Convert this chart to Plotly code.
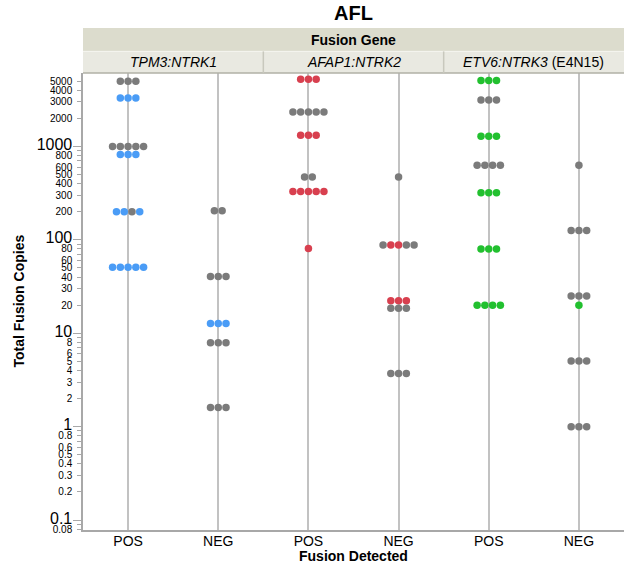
import plotly.graph_objects as go

# ---------------- data ----------------
panels = ["<i>TPM3:NTRK1</i>", "<i>AFAP1:NTRK2</i>", "<i>ETV6:NTRK3</i> (E4N15)"]
detected = ["POS", "NEG"]

# each row: value, colour codes of its dots (G gray, B blue, R red, E green)
tpm3_pos_values = [5000, 3300, 1000, 820, 200, 51]
tpm3_pos_colors = ["GGG", "BBB", "GGGGG", "BBB", "BBGB", "BBBBB"]
tpm3_neg_values = [205, 40.5, 12.7, 7.9, 1.6]
tpm3_neg_colors = ["GG", "GGG", "BBB", "GGG", "GGG"]

afap1_pos_values = [5250, 2340, 1320, 470, 330, 81]
afap1_pos_colors = ["RRR", "GGGGG", "RRR", "GG", "RRRRR", "R"]
afap1_neg_values = [470, 88, 22.3, 18.5, 3.7]
afap1_neg_colors = ["G", "GRRGG", "RRR", "GGG", "GGG"]

etv6_pos_values = [5100, 3150, 1290, 630, 320, 80, 20]
etv6_pos_colors = ["EEE", "GGG", "EEE", "GGGG", "EEE", "EEE", "EEEE"]
etv6_neg_values = [630, 126, 25, 20, 5.05, 1.0]
etv6_neg_colors = ["G", "GGG", "GGG", "E", "GGG", "GGG"]

groups = [
    (tpm3_pos_values, tpm3_pos_colors),
    (tpm3_neg_values, tpm3_neg_colors),
    (afap1_pos_values, afap1_pos_colors),
    (afap1_neg_values, afap1_neg_colors),
    (etv6_pos_values, etv6_pos_colors),
    (etv6_neg_values, etv6_neg_colors),
]

labeled_ticks = [0.08, 0.1, 0.2, 0.3, 0.4, 0.5, 0.6, 0.8, 1, 2, 3, 4, 5, 6, 8,
                 10, 20, 30, 40, 50, 60, 80, 100, 200, 300, 400, 500, 600, 800,
                 1000, 2000, 3000, 4000, 5000]
unlabeled_ticks = [0.09, 0.7, 0.9, 7, 9, 70, 90, 700, 900]
decade_ticks = [0.1, 1, 10, 100, 1000]

palette = {"G": "#7b7b7b", "B": "#4a9cf6", "R": "#d8404f", "E": "#22c02f"}

# ---------------- build ----------------
FONT = "Arial, Liberation Sans, sans-serif"
spacing = 0.086
y_range = [-1.107, 3.787]

fig = go.Figure()
cat_pos = [i + 0.5 for i in range(len(groups))]
for gi, (vals, cols) in enumerate(groups):
    center = cat_pos[gi]
    for v, code in zip(vals, cols):
        n = len(code)
        for k, c in enumerate(code):
            fig.add_trace(go.Scatter(
                x=[center + (k - (n - 1) / 2) * spacing], y=[v],
                mode="markers",
                marker=dict(size=7.5, color=palette[c], line=dict(width=0)),
                showlegend=False, hoverinfo="skip"))

# dummy trace for overlay axis (long decade ticks)
fig.add_trace(go.Scatter(x=[None], y=[None], yaxis="y2", showlegend=False, hoverinfo="skip"))

def tick_label(v):
    s = ("%g" % v)
    size = 16 if v in decade_ticks else 10
    return '<span style="font-size:%spx">%s</span>' % (size, s)

fig.update_layout(
    width=624, height=568,
    margin=dict(l=83, r=0, t=73, b=38, autoexpand=False),
    paper_bgcolor="white", plot_bgcolor="white",
    font=dict(family=FONT, color="black"),
    xaxis=dict(range=[0, 6], tickmode="array", tickvals=cat_pos,
               ticktext=detected * 3, ticks="", showgrid=True,
               gridcolor="#c2c2c2", gridwidth=1.5, zeroline=False,
               showline=True, linecolor="#a8a8a8", linewidth=1.5,
               automargin=False, ticklabelstandoff=-3,
               tickfont=dict(size=14, family=FONT), fixedrange=True),
    yaxis=dict(type="log", range=y_range, tickmode="array",
               tickvals=labeled_ticks,
               ticktext=[tick_label(v) for v in labeled_ticks],
               ticks="outside", ticklen=4, tickcolor="#a8a8a8", tickwidth=1,
               ticklabelstandoff=3, automargin=False,
               minor=dict(tickmode="array", tickvals=unlabeled_ticks,
                          ticks="outside", ticklen=4, tickcolor="#a8a8a8",
                          showgrid=False),
               showgrid=False, zeroline=False, showline=True,
               linecolor="#a8a8a8", linewidth=1.5,
               tickfont=dict(size=10, family=FONT, color="black")),
    yaxis2=dict(type="log", range=y_range, overlaying="y", side="left",
                tickmode="array", tickvals=decade_ticks, showticklabels=False,
                ticks="outside", ticklen=9, tickcolor="#a8a8a8", tickwidth=1,
                automargin=False,
                showgrid=False, zeroline=False, showline=False),
)

# header bands
band_top, band_mid = 1.0985, 1.0473
fig.add_shape(type="rect", xref="paper", yref="paper", x0=0, x1=1, y0=band_mid, y1=band_top,
              fillcolor="#dcdccd", line=dict(width=0), layer="below")
fig.add_shape(type="rect", xref="paper", yref="paper", x0=0, x1=1, y0=1.0, y1=band_mid,
              fillcolor="#e9e9e1", line=dict(width=0), layer="below")
fig.add_shape(type="line", xref="paper", yref="paper", x0=0, x1=1, y0=band_mid, y1=band_mid,
              line=dict(color="#f5f5f0", width=1))
fig.add_shape(type="line", xref="paper", yref="paper", x0=0, x1=1, y0=1.0, y1=1.0,
              line=dict(color="#b0b0a6", width=1.5))
for i in range(1, len(panels)):
    fig.add_shape(type="line", xref="paper", yref="paper", x0=i / 3, x1=i / 3, y0=1.0, y1=band_mid,
                  line=dict(color="#c8c8bd", width=1.5))

fig.add_annotation(text="<b>Fusion Gene</b>", xref="paper", yref="paper", x=0.5,
                   y=(band_mid + band_top) / 2, showarrow=False, font=dict(size=14, family=FONT),
                   xanchor="center", yanchor="middle")
for i, p in enumerate(panels):
    fig.add_annotation(text=p, xref="paper", yref="paper", x=(i + 0.5) / 3,
                       y=(1.0 + band_mid) / 2, showarrow=False, font=dict(size=14, family=FONT),
                       xanchor="center", yanchor="middle")

fig.add_annotation(text="<b>AFL</b>", xref="paper", yref="paper", x=0.5, y=band_top,
                   yshift=15, showarrow=False, font=dict(size=20, family=FONT),
                   xanchor="center", yanchor="middle")
fig.add_annotation(text="<b>Total Fusion Copies</b>", xref="paper", yref="paper", x=0, y=0.5,
                   xshift=-65, textangle=-90, showarrow=False, font=dict(size=14, family=FONT),
                   xanchor="center", yanchor="middle")
fig.add_annotation(text="<b>Fusion Detected</b>", xref="paper", yref="paper", x=0.5, y=0,
                   yshift=-26, showarrow=False, font=dict(size=14, family=FONT),
                   xanchor="center", yanchor="middle")

fig.write_html("out.html", config={"displayModeBar": False},
               post_script="document.body.style.margin='0';document.body.style.overflow='hidden';")
